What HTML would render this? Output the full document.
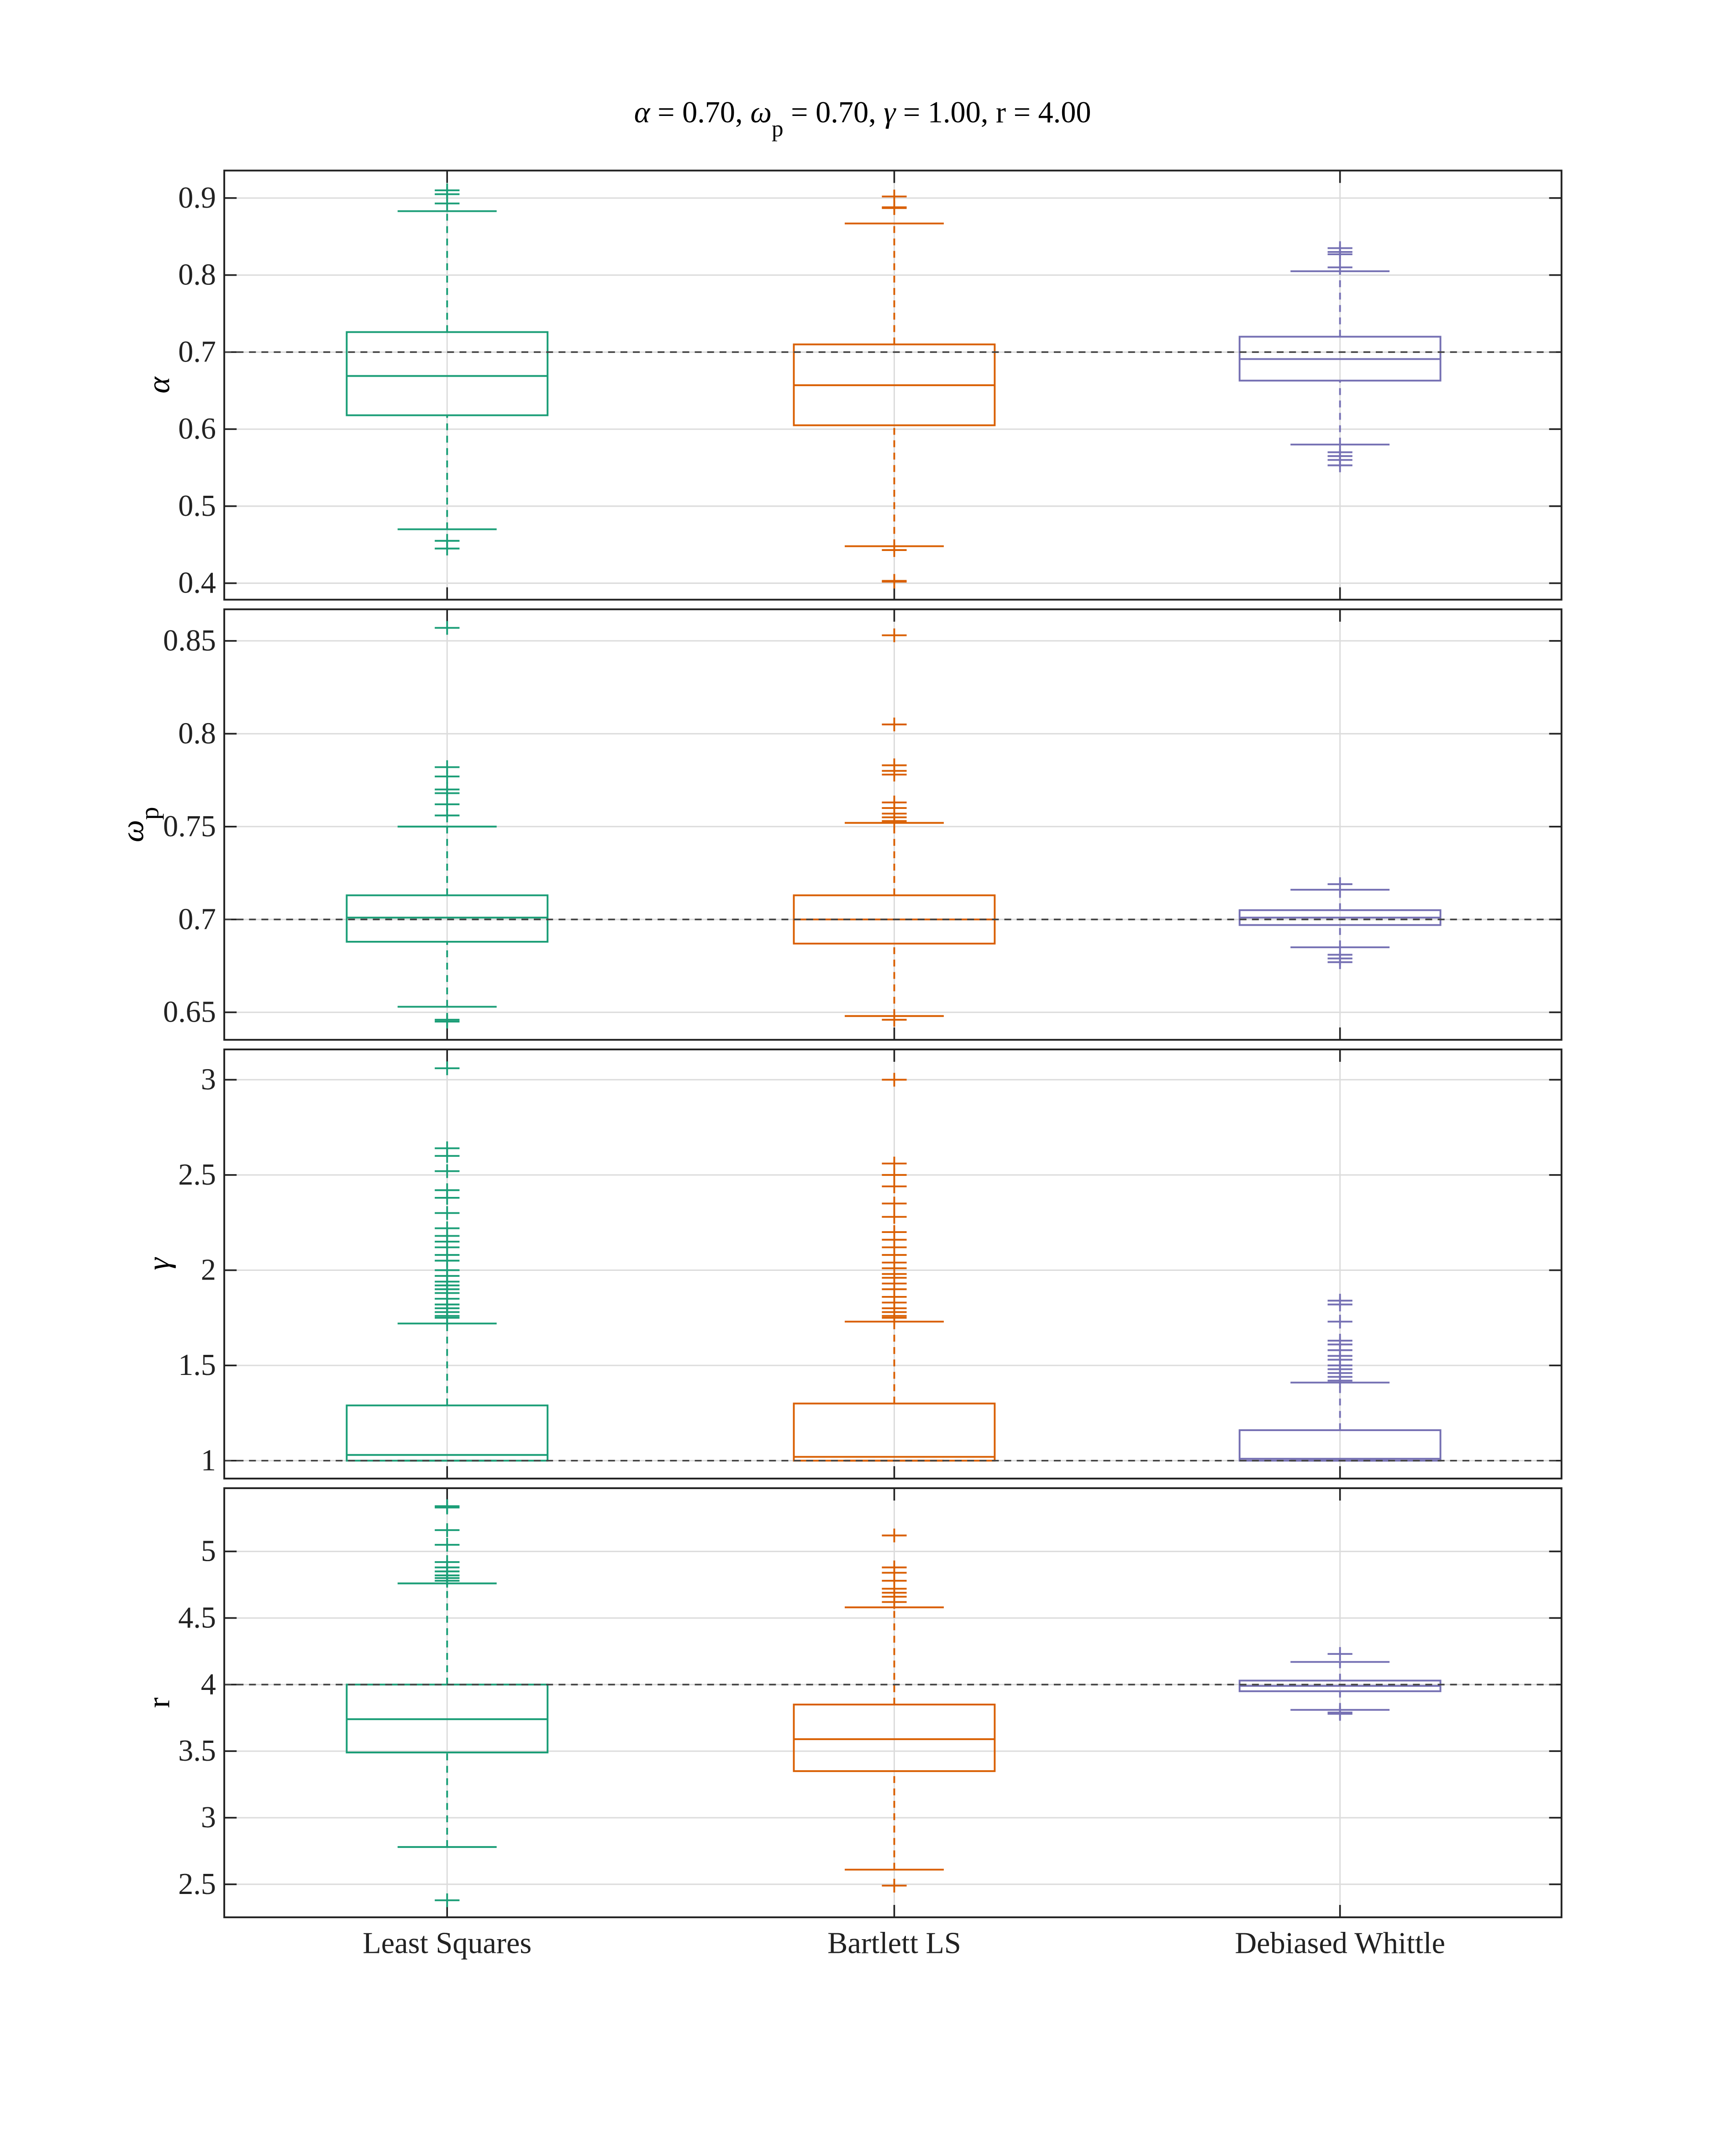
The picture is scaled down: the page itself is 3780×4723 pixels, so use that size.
<!DOCTYPE html>
<html><head><meta charset="utf-8"><style>
html,body{margin:0;padding:0;background:#fff;}
svg{display:block;font-family:"Liberation Serif",serif;}
</style></head><body>
<svg id="chart" xmlns="http://www.w3.org/2000/svg" width="3780" height="4723" viewBox="0 0 3780 4723">
<rect width="3780" height="4723" fill="#fff"/>
<g id="root" transform="scale(3.013)"></g>
</svg>
<script>
const methods = ["Least Squares","Bartlett LS","Debiased Whittle"];
const colors = ["#1b9e77","#d95f02","#7570b3"];
const panelNames = ["alpha","omega-p","gamma","r"];
const truths = [0.7, 0.7, 1.0, 4.0];
const ticks0 = [0.4,0.5,0.6,0.7,0.8,0.9];
const ticks1 = [0.65,0.7,0.75,0.8,0.85];
const ticks2 = [1,1.5,2,2.5,3];
const ticks3 = [2.5,3,3.5,4,4.5,5];
const tickLabels0 = ["0.4","0.5","0.6","0.7","0.8","0.9"];
const tickLabels1 = ["0.65","0.7","0.75","0.8","0.85"];
const tickLabels2 = ["1","1.5","2","2.5","3"];
const tickLabels3 = ["2.5","3","3.5","4","4.5","5"];
// [whiskerLow, q1, median, q3, whiskerHigh] per method
const stats0 = [[0.470,0.618,0.669,0.726,0.883],[0.448,0.605,0.657,0.710,0.867],[0.580,0.663,0.691,0.720,0.805]];
const stats1 = [[0.653,0.688,0.701,0.713,0.750],[0.648,0.687,0.700,0.713,0.752],[0.685,0.697,0.701,0.705,0.716]];
const stats2 = [[1.0,1.0,1.03,1.29,1.72],[1.0,1.0,1.02,1.30,1.73],[1.0,1.0,1.01,1.16,1.41]];
const stats3 = [[2.78,3.49,3.74,4.0,4.76],[2.61,3.35,3.59,3.85,4.58],[3.81,3.95,3.99,4.03,4.17]];
const outliers0 = [[0.91,0.905,0.893,0.455,0.445],[0.902,0.888,0.887,0.443,0.403,0.402],[0.835,0.83,0.827,0.81,0.57,0.565,0.56,0.553]];
const outliers1 = [[0.857,0.782,0.777,0.770,0.768,0.762,0.756,0.646,0.645],[0.853,0.805,0.783,0.780,0.778,0.763,0.760,0.757,0.755,0.753,0.646],[0.719,0.681,0.679,0.677]];
const outliers2 = [[3.06,2.64,2.60,2.52,2.42,2.38,2.30,2.22,2.18,2.15,2.12,2.08,2.05,2.0,1.97,1.94,1.92,1.90,1.88,1.85,1.82,1.80,1.78,1.76,1.75],
 [3.0,2.56,2.50,2.44,2.35,2.28,2.20,2.16,2.12,2.08,2.04,2.01,1.98,1.96,1.93,1.90,1.86,1.83,1.80,1.78,1.76,1.75],
 [1.84,1.82,1.73,1.63,1.61,1.58,1.55,1.53,1.50,1.48,1.46,1.44,1.42]];
const outliers3 = [[5.34,5.33,5.16,5.05,4.92,4.88,4.85,4.82,4.80,4.78,2.38],[5.12,4.88,4.84,4.78,4.72,4.69,4.66,4.62,2.49],[4.23,3.79,3.78]];

const panels = [
 {top:124,bot:436,ymin:0.3786,ymax:0.9357,ticks:ticks0,labels:tickLabels0,stats:stats0,out:outliers0},
 {top:443,bot:756,ymin:0.6352,ymax:0.867,ticks:ticks1,labels:tickLabels1,stats:stats1,out:outliers1},
 {top:763,bot:1075,ymin:0.906,ymax:3.159,ticks:ticks2,labels:tickLabels2,stats:stats2,out:outliers2},
 {top:1082,bot:1394,ymin:2.252,ymax:5.475,ticks:ticks3,labels:tickLabels3,stats:stats3,out:outliers3}
];
const L=163,R=1135,xc=[325,650,974],bw=73,cw=36,lw=1.3;
const NS="http://www.w3.org/2000/svg";
const root=document.getElementById('root');
function mk(tag,attrs,parent){const e=document.createElementNS(NS,tag);for(const k in attrs)e.setAttribute(k,attrs[k]);(parent||root).appendChild(e);return e;}
function line(x1,y1,x2,y2,stroke,w,dash,p,name){const e=mk('line',{x1,y1,x2,y2,stroke,'stroke-width':w},p);if(dash)e.setAttribute('stroke-dasharray',dash);


return e;}

const title=mk('text',{x:627,y:89,'text-anchor':'middle','font-size':22});


title.innerHTML='<tspan font-style="italic">α</tspan> = 0.70, <tspan font-style="italic">ω</tspan><tspan font-size="17" dy="10">p</tspan><tspan dy="-10"> = 0.70, </tspan><tspan font-style="italic">γ</tspan> = 1.00, r = 4.00';

const ylabels=["α","ω","γ","r"];
panels.forEach((P,pi)=>{
 const g=mk('g',{});
 
 
 const y=v=>P.bot-(v-P.ymin)/(P.ymax-P.ymin)*(P.bot-P.top);
 P.ticks.forEach((t,i)=>{
  line(L,y(t),R,y(t),'#dcdcdc',1,null,g,'gridline-y');
  line(L,y(t),L+9,y(t),'#222',1.2,null,g,'y-tick');
  line(R-9,y(t),R,y(t),'#222',1.2,null,g,'y-tick-right');
  const tx=mk('text',{x:L-6,y:y(t)+7,'text-anchor':'end','font-size':22,fill:'#222'},g);
  tx.textContent=P.labels[i];
  
  
 });
 xc.forEach(x=>{
  line(x,P.top,x,P.bot,'#dcdcdc',1,null,g,'gridline-x');
  line(x,P.top,x,P.top+9,'#222',1.2,null,g,'x-tick-top');
  line(x,P.bot-9,x,P.bot,'#222',1.2,null,g,'x-tick');
 });
 P.stats.forEach((s,mi)=>{
  const c=colors[mi],x=xc[mi];
  const bg=mk('g',{},g);
  
  
  line(x,y(s[0]),x,y(s[1]),c,lw,'5,4',bg,'whisker-low');
  line(x,y(s[3]),x,y(s[4]),c,lw,'5,4',bg,'whisker-high');
  line(x-cw,y(s[0]),x+cw,y(s[0]),c,lw,null,bg,'whisker-cap-low');
  line(x-cw,y(s[4]),x+cw,y(s[4]),c,lw,null,bg,'whisker-cap-high');
  const r=mk('rect',{x:x-bw,y:y(s[3]),width:2*bw,height:Math.max(0.5,y(s[1])-y(s[3])),fill:'none',stroke:c,'stroke-width':lw},bg);
  
  
  line(x-bw,y(s[2]),x+bw,y(s[2]),c,lw,null,bg,'median-line');
  P.out[mi].forEach(o=>{
   line(x-9,y(o),x+9,y(o),c,lw,null,bg,'outlier');
   line(x,y(o)-5,x,y(o)+5,c,lw,null,bg,'outlier');
  });
 });
 line(L,y(truths[pi]),R,y(truths[pi]),'#444',1.2,'5,4',g,'true-value-line');
 const fr=mk('rect',{x:L,y:P.top,width:R-L,height:P.bot-P.top,fill:'none',stroke:'#222','stroke-width':1.3},g);
 
 
 const cy=(P.top+P.bot)/2;
 const yl=mk('text',{x:0,y:0,'text-anchor':'middle','font-size':23,'font-style':pi<3?'italic':'normal',transform:`translate(${pi==1?104:123},${cy}) rotate(-90)`},g);
 if(pi==1){yl.innerHTML='ω<tspan font-style="normal" font-size="19" dy="11">p</tspan>';}
 else yl.textContent=ylabels[pi];
 
 
});
methods.forEach((m,i)=>{
 const t=mk('text',{x:xc[i],y:1420,'text-anchor':'middle','font-size':22,fill:'#222'});
 t.textContent=m;
 
 
});
</script>
</body></html>
